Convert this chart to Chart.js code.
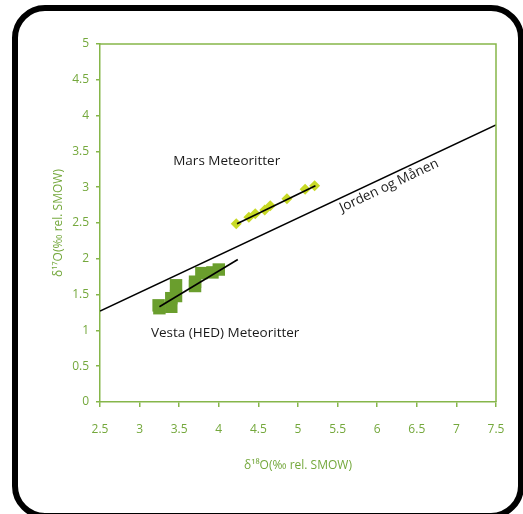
<!DOCTYPE html>
<html lang="no">
<head>
<meta charset="UTF-8">
<title>Oksygenisotoper - meteoritter</title>
<style>
  html, body { margin: 0; padding: 0; background: #fff; }
  #wrap { width: 523px; height: 514px; }
</style>
</head>
<body>
<div id="wrap"><canvas id="isotoper" width="523" height="514"></canvas></div>
<script src="https://cdn.jsdelivr.net/npm/chart.js@4"></script>
<script>
// Mars meteoritter
const marsX = [4.22, 4.38, 4.46, 4.58, 4.65, 4.86, 5.09, 5.21];
const marsY = [2.49, 2.58, 2.63, 2.68, 2.74, 2.84, 2.97, 3.02];

// Vesta (HED) meteoritter
const vestaX = [3.24, 3.25, 3.40, 3.40, 3.46, 3.46, 3.70, 3.70, 3.78, 3.92, 4.00];
const vestaY = [1.35, 1.31, 1.45, 1.33, 1.63, 1.48, 1.68, 1.62, 1.80, 1.81, 1.85];

// linjer
const jordenX = [2.5, 7.5];
const jordenY = [1.27, 3.87];
const marsLinjeX = [4.23, 5.22];
const marsLinjeY = [2.49, 3.02];
const vestaLinjeX = [3.25, 4.24];
const vestaLinjeY = [1.33, 1.99];

const xTicks = [2.5, 3, 3.5, 4, 4.5, 5, 5.5, 6, 6.5, 7, 7.5];
const yTicks = [0, 0.5, 1, 1.5, 2, 2.5, 3, 3.5, 4, 4.5, 5];

const tekster = ["Mars Meteoritter", "Jorden og Månen", "Vesta (HED) Meteoritter"];

const gronn = '#86b64a';
const gronnTekst = '#74a83c';

const punkter = (xs, ys) => xs.map((x, i) => ({ x: x, y: ys[i] }));

const ramme = {
  id: 'ramme',
  beforeDraw(chart) {
    const c = chart.ctx;
    c.save();
    c.strokeStyle = '#000';
    c.lineWidth = 6;
    c.beginPath();
    c.roundRect(15, 8, 506, 508, 30);
    c.stroke();
    c.restore();
  },
  afterDraw(chart) {
    const c = chart.ctx;
    const a = chart.chartArea;
    const xs = chart.scales.x, ys = chart.scales.y;
    c.save();
    // topp og høyre kant
    c.strokeStyle = gronn;
    c.lineWidth = 1.5;
    c.beginPath();
    c.moveTo(a.left, a.top);
    c.lineTo(a.right, a.top);
    c.lineTo(a.right, a.bottom);
    c.stroke();

    c.fillStyle = '#1a1a1a';
    c.font = '13.5px "Open Sans"';
    c.textAlign = 'center';
    c.textBaseline = 'middle';
    c.fillText(tekster[0], xs.getPixelForValue(4.1), ys.getPixelForValue(3.37));
    c.fillText(tekster[2], xs.getPixelForValue(4.08), ys.getPixelForValue(0.96));

    // tekst under jordlinjen
    const dx = xs.getPixelForValue(jordenX[1]) - xs.getPixelForValue(jordenX[0]);
    const dy = ys.getPixelForValue(jordenY[1]) - ys.getPixelForValue(jordenY[0]);
    c.translate(xs.getPixelForValue(6.15), ys.getPixelForValue(3.02));
    c.rotate(Math.atan2(dy, dx));
    c.fillText(tekster[1], 0, 0);
    c.restore();
  }
};

const linje = (data, order) => ({
  data: data,
  showLine: true,
  borderColor: '#000',
  borderWidth: 1.6,
  pointRadius: 0,
  order: order
});

new Chart(document.getElementById('isotoper'), {
  type: 'scatter',
  data: {
    datasets: [
      linje(punkter(jordenX, jordenY), 0),
      linje(punkter(marsLinjeX, marsLinjeY), 0),
      linje(punkter(vestaLinjeX, vestaLinjeY), 0),
      {
        data: punkter(marsX, marsY),
        pointStyle: 'rectRot',
        pointRadius: 5.5,
        backgroundColor: '#c8da26',
        borderColor: '#c8da26',
        borderWidth: 0,
        order: 1
      },
      {
        data: punkter(vestaX, vestaY),
        pointStyle: 'rect',
        pointRadius: 8.8,
        backgroundColor: '#6a9e2d',
        borderColor: '#6a9e2d',
        borderWidth: 0,
        order: 1
      }
    ]
  },
  options: {
    responsive: false,
    animation: false,
    layout: { padding: { left: 0, top: 44, right: 27, bottom: 0 } },
    plugins: {
      legend: { display: false },
      tooltip: { enabled: false }
    },
    scales: {
      x: {
        type: 'linear',
        min: 2.5,
        max: 7.5,
        afterBuildTicks: s => { s.ticks = xTicks.map(v => ({ value: v })); },
        afterFit: s => { s.height = 112; },
        border: { color: gronn, width: 1.5 },
        grid: { drawOnChartArea: false, drawTicks: true, tickLength: 5, color: gronn, lineWidth: 1.5 },
        ticks: {
          color: gronnTekst,
          font: { family: '"Open Sans"', size: 12 },
          padding: 15,
          maxRotation: 0,
          callback: v => String(v)
        },
        title: {
          display: true,
          text: 'δ¹⁸O(‰ rel. SMOW)',
          color: gronnTekst,
          font: { family: '"Open Sans"', size: 12 },
          padding: { bottom: 41 }
        }
      },
      y: {
        type: 'linear',
        min: 0,
        max: 5,
        afterBuildTicks: s => { s.ticks = yTicks.map(v => ({ value: v })); },
        afterFit: s => { s.width = 100; },
        border: { color: gronn, width: 1.5 },
        grid: { drawOnChartArea: false, drawTicks: true, tickLength: 4, color: gronn, lineWidth: 1.5 },
        ticks: {
          color: gronnTekst,
          font: { family: '"Open Sans"', size: 12 },
          padding: 7,
          callback: v => String(v)
        },
        title: {
          display: true,
          text: 'δ¹⁷O(‰ rel. SMOW)',
          color: gronnTekst,
          font: { family: '"Open Sans"', size: 12 },
          padding: { top: 51 }
        }
      }
    }
  },
  plugins: [ramme]
});
</script>
</body>
</html>
